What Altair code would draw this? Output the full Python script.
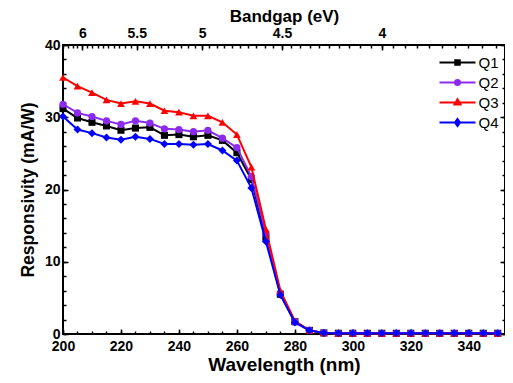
import altair as alt
import pandas as pd

# ---------------- data ----------------
wavelength = list(range(200, 355, 5))
tail = [0.1] * 12
q1 = [31.2, 29.9, 29.3, 28.8, 28.2, 28.5, 28.6, 27.5, 27.6, 27.3, 27.5, 26.8, 25.1, 21.4, 13.4, 5.5, 1.7, 0.5, 0.15] + tail
q2 = [31.8, 30.6, 30.1, 29.5, 29.0, 29.5, 29.2, 28.4, 28.3, 28.0, 28.2, 27.1, 25.8, 21.8, 13.9, 5.6, 1.7, 0.5, 0.15] + tail
q3 = [35.5, 34.3, 33.4, 32.4, 31.9, 32.2, 31.9, 30.9, 30.7, 30.2, 30.2, 29.3, 27.6, 23.1, 14.5, 6.0, 1.8, 0.5, 0.15] + tail
q4 = [30.1, 28.3, 27.8, 27.2, 26.9, 27.3, 27.0, 26.3, 26.3, 26.2, 26.3, 25.4, 24.0, 20.2, 12.8, 5.4, 1.6, 0.5, 0.15] + tail

series_names = ["Q1", "Q2", "Q3", "Q4"]
series_values = [q1, q2, q3, q4]
colors = ["#000000", "#8C2BF0", "#FF0000", "#0000FF"]
shapes = ["square", "circle", "triangle-up", "diamond"]
marker_sizes = [50, 52, 60, 64]

x_major = [200, 220, 240, 260, 280, 300, 320, 340]
x_minor = list(range(200, 353, 5))
y_major = [0, 10, 20, 30, 40]
y_minor = list(range(0, 41, 2))
bandgap_major = [6, 5.5, 5, 4.5, 4]
bandgap_minor = [round(3.5 + 0.05 * i, 2) for i in range(55)]

# legend symbols: line segment + marker (path units, scaled by sqrt(size)/2 = 5 px)
legend_paths = [
    "M-3.6,0H3.6M-0.45,-0.45H0.45V0.45H-0.45Z",
    "M-3.6,0H3.6M-0.5,0A0.5,0.5,0,1,0,0.5,0A0.5,0.5,0,1,0,-0.5,0Z",
    "M-3.6,0H3.6M0,-0.65L0.6,0.42L-0.6,0.42Z",
    "M-3.6,0H3.6M0,-0.7L0.5,0L0,0.7L-0.5,0Z",
]

rows = []
for name, vals in zip(series_names, series_values):
    for w, v in zip(wavelength, vals):
        rows.append({"wavelength": w, "value": v, "series": name})
df = pd.DataFrame(rows)

FONT = "Liberation Sans"
XMAX = 352.5
xs = alt.Scale(domain=[200, XMAX], nice=False, zero=False)
ys = alt.Scale(domain=[0, 40], nice=False, zero=False)

common_axis = dict(domain=False, grid=False, tickColor="black", tickWidth=1.5,
                   labelFont=FONT, labelFontWeight="bold", labelFontSize=14,
                   labelColor="black", labelFlush=False, labelOverlap=False,
                   titleFont=FONT, titleFontWeight="bold", titleColor="black")


def axis_layer(xaxis, yaxis):
    return alt.Chart(df).mark_point(opacity=0).encode(
        x=alt.X("wavelength:Q", scale=xs, axis=xaxis),
        y=alt.Y("value:Q", scale=ys, axis=yaxis),
    )


bottom_major = alt.Axis(orient="bottom", values=x_major, tickSize=5, offset=-5,
                        labelPadding=5, title="Wavelength (nm)", titlePadding=2,
                        titleFontSize=19, **common_axis)
left_major = alt.Axis(orient="left", values=y_major, tickSize=5, offset=-5,
                      labelPadding=3, title="Responsivity (mA/W)", titlePadding=7,
                      titleFontSize=17.5, **common_axis)
bottom_minor = alt.Axis(orient="bottom", values=x_minor, tickSize=3, offset=-3,
                        labels=False, title="", **common_axis)
left_minor = alt.Axis(orient="left", values=y_minor, tickSize=3, offset=-3,
                      labels=False, title="", **common_axis)
top_major = alt.Axis(orient="top", values=[1240 / e for e in bandgap_major],
                     tickSize=5, offset=-5, labelPadding=5,
                     labelExpr="format(1240/datum.value, '.2~f')",
                     title="Bandgap (eV)", titlePadding=1, titleFontSize=17,
                     **common_axis)
right_major = alt.Axis(orient="right", values=y_major, tickSize=5, offset=-5,
                       labels=False, title="", **common_axis)
top_minor = alt.Axis(orient="top",
                     values=[1240 / e for e in bandgap_minor if 200 <= 1240 / e <= XMAX],
                     tickSize=3, offset=-3, labels=False, title="", **common_axis)
right_minor = alt.Axis(orient="right", values=y_minor, tickSize=3, offset=-3,
                       labels=False, title="", **common_axis)

layers = [
    axis_layer(bottom_major, left_major),
    axis_layer(bottom_minor, left_minor),
    axis_layer(top_major, right_major),
    axis_layer(top_minor, right_minor),
]

for name, col, shp, sz in zip(series_names, colors, shapes, marker_sizes):
    base = alt.Chart(df).transform_filter(alt.datum.series == name)
    line = base.mark_line(color=col, strokeWidth=2).encode(
        x=alt.X("wavelength:Q", scale=xs, axis=None),
        y=alt.Y("value:Q", scale=ys, axis=None),
    )
    pts = base.mark_point(color=col, shape=shp, filled=True, size=sz, opacity=1).encode(
        x=alt.X("wavelength:Q", scale=xs, axis=None),
        y=alt.Y("value:Q", scale=ys, axis=None),
    )
    layers += [line, pts]

leg = alt.Legend(orient="none", legendX=387, legendY=10, title=None, padding=0,
                 symbolSize=100, symbolStrokeWidth=2, labelFont=FONT,
                 labelFontSize=15, labelColor="black", labelOffset=13.5, rowPadding=4)
legend_layer = alt.Chart(df).transform_filter("false").mark_point(
    filled=True, size=100, strokeWidth=2, opacity=1
).encode(
    x=alt.X("wavelength:Q", scale=xs, axis=None),
    y=alt.Y("value:Q", scale=ys, axis=None),
    fill=alt.Fill("series:N", scale=alt.Scale(domain=series_names, range=colors), legend=leg),
    stroke=alt.Stroke("series:N", scale=alt.Scale(domain=series_names, range=colors), legend=leg),
    shape=alt.Shape("series:N", scale=alt.Scale(domain=series_names, range=legend_paths), legend=leg),
)
layers.append(legend_layer)

chart = alt.layer(*layers).resolve_axis(x="independent", y="independent").properties(
    width=442, height=289,
    padding={"left": 55, "top": 37, "right": 0, "bottom": 41},
    autosize=alt.AutoSizeParams(type="none"),
).configure_view(stroke="black", strokeWidth=2)

chart.save("out.html", embed_options={"renderer": "svg", "actions": False})
